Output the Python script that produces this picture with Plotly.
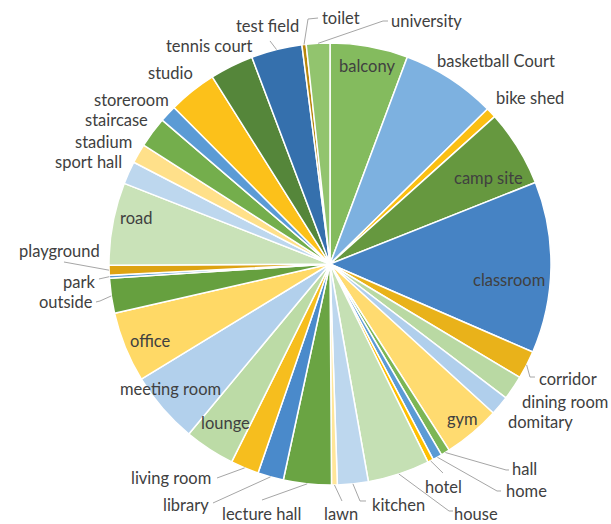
import math
import plotly.graph_objects as go

# Share of mentions per place (percent), in clockwise order from 12 o'clock
places = [
    "balcony", "basketball Court", "bike shed", "camp site", "classroom",
    "corridor", "dining room", "domitary", "gym", "hall", "home", "hotel",
    "house", "kitchen", "lawn", "lecture hall", "library", "living room",
    "lounge", "meeting room", "office", "outside", "park", "playground",
    "road", "sport hall", "stadium", "staircase", "storeroom", "studio",
    "tennis court", "test field", "toilet", "university",
]
shares = [
    5.69, 6.94, 0.75, 5.61, 12.53,
    2.06, 1.78, 1.42, 4.17, 0.64, 0.69, 0.42,
    4.53, 2.25, 0.42, 3.50, 1.89, 2.06,
    3.69, 5.25, 5.14, 2.56, 0.22, 0.72,
    6.03, 1.67, 1.42, 2.25, 1.25, 3.53,
    3.19, 3.72, 0.31, 1.72,
]
slice_colors = [
    "#84BB5E", "#7DB1E0", "#FBBF12", "#66983F", "#4683C4",
    "#E9B21A", "#B9D9A3", "#B0CFEC", "#FFDB70", "#7CB655", "#5B9BD5", "#FFC000",
    "#C5E0B4", "#BDD7EE", "#FFE699", "#6AA443", "#4A8ACB", "#F6BE1E",
    "#BCDBA6", "#B2D0EC", "#FFD966", "#66A03F", "#5B9BD5", "#DDA312",
    "#C9E2B8", "#BDD7EE", "#FFE08A", "#74AE4C", "#5B9BD5", "#FCC11A",
    "#55863A", "#3570AD", "#B8860B", "#92C46E",
]

# ---- layout (pixels) ----
W, H = 611, 524
CX, CY, R = 330, 264, 221
FONT = dict(family="Lato, Calibri, sans-serif", size=16.5, color="#404040")
LINE_COLOR = "#A6A6A6"

# label centres
label_pos = {
    "balcony": (367, 66), "basketball Court": (496, 61), "bike shed": (530, 98),
    "camp site": (488, 178), "classroom": (509, 280), "corridor": (568, 379),
    "dining room": (565, 402), "domitary": (540, 422), "gym": (462, 419),
    "hall": (524, 469), "home": (526, 491), "hotel": (443, 487),
    "house": (476, 514), "kitchen": (398, 505), "lawn": (341, 514),
    "lecture hall": (261, 514), "library": (186, 505), "living room": (171, 478),
    "lounge": (226, 423), "meeting room": (170, 389), "office": (150, 341),
    "outside": (66, 302), "park": (79, 282), "playground": (59, 251),
    "road": (136, 218), "sport hall": (88, 162), "stadium": (103, 142),
    "staircase": (116, 120), "storeroom": (131, 100), "studio": (170, 73),
    "tennis court": (209, 46), "test field": (267, 26), "toilet": (341, 18),
    "university": (426, 21),
}
# leader line bends/ends (they start on the slice rim)
leader_path = {
    "test field": [(270, 41)],
    "toilet": [(308, 19), (318, 18)],
    "university": [(383, 21), (388, 21)],
    "lawn": [(342, 501)],
    "kitchen": [(360, 501), (366, 501)],
    "house": [(449, 511), (453, 511)],
    "hotel": [(443, 473)],
    "home": [(497, 491), (501, 491)],
    "hall": [(506, 470), (509, 470)],
    "corridor": [(530, 377), (535, 377)],
    "living room": [(217, 478)],
    "library": [(213, 503)],
    "lecture hall": [(262, 500)],
    "playground": [(64, 262)],
    "park": [(99, 279)],
    "outside": [(100, 301), (96, 302)],
}


def to_paper(px, py):
    return px / W, 1 - py / H


fig = go.Figure(
    go.Pie(
        labels=places,
        values=shares,
        sort=False,
        direction="clockwise",
        rotation=0,
        textinfo="none",
        hoverinfo="label+percent",
        marker=dict(colors=slice_colors, line=dict(color="white", width=1.5)),
        domain=dict(x=[(CX - R) / W, (CX + R) / W],
                    y=[(H - CY - R) / H, (H - CY + R) / H]),
        showlegend=False,
    )
)

total = sum(shares)
cum = 0.0
shapes = []
annotations = []
for name, v in zip(places, shares):
    mid = math.radians((cum + v / 2) / total * 360)
    cum += v
    if name in leader_path:
        pts = [(CX + R * math.sin(mid), CY - R * math.cos(mid))] + leader_path[name]
        path = "M " + " L ".join(
            "{:.4f},{:.4f}".format(*to_paper(x, y)) for x, y in pts)
        shapes.append(dict(type="path", xref="paper", yref="paper", path=path,
                           line=dict(color=LINE_COLOR, width=1)))
    lx, ly = to_paper(*label_pos[name])
    annotations.append(dict(text=name, x=lx, y=ly, xref="paper", yref="paper",
                            xanchor="center", yanchor="middle", showarrow=False,
                            font=FONT))

fig.update_layout(
    width=W, height=H,
    margin=dict(l=0, r=0, t=0, b=0),
    paper_bgcolor="white", plot_bgcolor="white",
    shapes=shapes, annotations=annotations,
)

fig.write_html("out.html")
